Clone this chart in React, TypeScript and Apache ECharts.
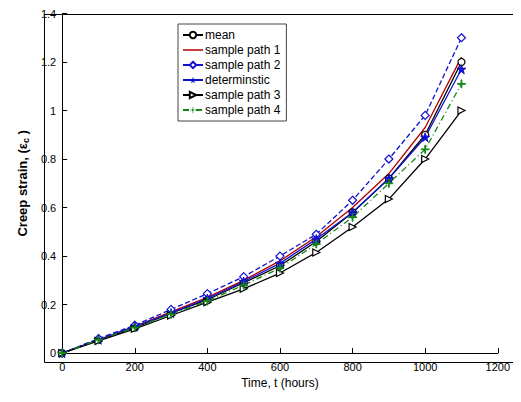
import React, { useEffect, useRef } from "react";
import * as echarts from "echarts";

const hours = [0, 100, 200, 300, 400, 500, 600, 700, 800, 900, 1000, 1100];
const mean = [0, 0.055, 0.105, 0.165, 0.22, 0.29, 0.36, 0.46, 0.58, 0.72, 0.9, 1.2];
const path1 = [0, 0.055, 0.11, 0.17, 0.23, 0.3, 0.38, 0.48, 0.6, 0.74, 0.93, 1.22];
const path2 = [0, 0.06, 0.115, 0.18, 0.245, 0.315, 0.4, 0.49, 0.63, 0.8, 0.98, 1.3];
const determ = [0, 0.055, 0.11, 0.165, 0.225, 0.295, 0.37, 0.47, 0.58, 0.72, 0.89, 1.17];
const path3 = [0, 0.05, 0.1, 0.155, 0.21, 0.265, 0.33, 0.415, 0.52, 0.635, 0.8, 1.0];
const path4 = [0, 0.055, 0.105, 0.16, 0.215, 0.28, 0.35, 0.45, 0.56, 0.7, 0.84, 1.11];

const tri = "path://M0,0 L10,5 L0,10 Z";
const star = "path://M5,0 L6.2,3.8 L10,3.8 L6.9,6.1 L8.1,10 L5,7.6 L1.9,10 L3.1,6.1 L0,3.8 L3.8,3.8 Z";
const plus = "path://M4.5,0 H5.5 V4.5 H10 V5.5 H5.5 V10 H4.5 V5.5 H0 V4.5 H4.5 Z";

const mk = (name: string, data: number[], color: string, type: any, symbol: string, size: number, hollow: boolean) => ({
  name,
  type: "line",
  data: hours.map((h, i) => [h, data[i]]),
  symbol,
  symbolSize: size,
  showSymbol: symbol !== "none",
  lineStyle: { color, width: 1.3, type },
  itemStyle: hollow ? { color: "#fff", borderColor: color, borderWidth: 1.2 } : { color, borderColor: color },
});

export default function App() {
  const ref = useRef<HTMLDivElement>(null);
  useEffect(() => {
    const chart = echarts.init(ref.current!, null, { renderer: "svg" });
    chart.setOption({
      animation: false,
      textStyle: { fontFamily: "Liberation Sans" },
      grid: { left: 34, right: 2, top: 4, bottom: 34 },
      legend: {
        orient: "vertical",
        left: 170,
        top: 16,
        itemGap: 3,
        itemWidth: 20,
        itemHeight: 8,
        padding: [5, 6, 5, 4],
        borderColor: "#444",
        borderWidth: 1,
        backgroundColor: "#fff",
        textStyle: { fontSize: 12, color: "#000", padding: [0, 0, 0, -3] },
        data: [
          { name: "mean" },
          { name: "sample path 1", icon: "path://M0,0 H20 V1.5 H0 Z", itemStyle: { color: "#b00000" } },
          { name: "sample path 2" },
          { name: "determinstic" },
          { name: "sample path 3" },
          { name: "sample path 4" },
        ],
      },
      xAxis: {
        type: "value",
        min: 0,
        max: 1200,
        interval: 200,
        name: "Time, t (hours)",
        nameLocation: "middle",
        nameGap: 22,
        nameTextStyle: { fontSize: 12, color: "#000" },
        axisLine: { onZero: false, lineStyle: { color: "#000" } },
        axisTick: { inside: true, lineStyle: { color: "#000" } },
        axisLabel: { fontSize: 11, color: "#000", formatter: (v: number) => String(v) },
        splitLine: { show: false },
      },
      yAxis: {
        type: "value",
        min: 0,
        max: 1.4,
        interval: 0.2,
        name: "Creep strain, (ε{s|c} )",
        nameLocation: "middle",
        nameGap: 22,
        nameTextStyle: { fontSize: 13, fontWeight: "bold", color: "#000", rich: { s: { fontSize: 9, fontWeight: "bold", verticalAlign: "bottom", padding: [6, 0, 0, 0] } } },
        axisLine: { lineStyle: { color: "#000" } },
        axisTick: { inside: true, lineStyle: { color: "#000" } },
        axisLabel: { fontSize: 11, color: "#000", margin: 6, formatter: (v: number) => String(Math.round(v * 10) / 10) },
        splitLine: { show: false },
      },
      graphic: [
        { type: "rect", left: 34, top: 4, shape: { width: 477, height: 348 }, style: { fill: "none", stroke: "#000", lineWidth: 1 }, silent: true },
      ],
      series: [
        mk("mean", mean, "#000", "solid", "circle", 7, true),
        mk("sample path 1", path1, "#b00000", "solid", "none", 0, false),
        mk("sample path 2", path2, "#1010d0", "dashed", "diamond", 8, true),
        mk("determinstic", determ, "#1010d0", "solid", star, 9, false),
        mk("sample path 3", path3, "#000", "solid", tri, 7, true),
        mk("sample path 4", path4, "#118811", [6, 3, 1, 3], plus, 8, false),
      ],
    });
    return () => chart.dispose();
  }, []);
  return <div ref={ref} style={{ width: 505, height: 386 }} />;
}
